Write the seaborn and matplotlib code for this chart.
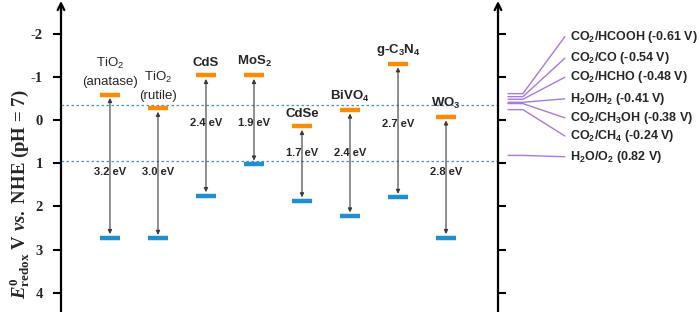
import matplotlib
matplotlib.use("Agg")
import matplotlib.pyplot as plt
import matplotlib.transforms as mtransforms
import pandas as pd
import seaborn as sns

# band edges (V vs NHE)
materials = ["TiO$_2$\n(anatase)", "TiO$_2$\n(rutile)", "CdS", "MoS$_2$",
             "CdSe", "BiVO$_4$", "g-C$_3$N$_4$", "WO$_3$"]
cb = [-0.59, -0.27, -1.03, -1.03, 0.15, -0.23, -1.30, -0.07]
vb = [2.72, 2.74, 1.75, 1.02, 1.87, 2.22, 1.79, 2.72]
gaps = ["3.2 eV", "3.0 eV", "2.4 eV", "1.9 eV", "1.7 eV", "2.4 eV", "2.7 eV", "2.8 eV"]
gap_label_y = [1.20, 1.20, 0.07, 0.07, 0.76, 0.76, 0.09, 1.20]

# redox couples
couples = ["CO$_2$/HCOOH (-0.61 V)", "CO$_2$/CO (-0.54 V)", "CO$_2$/HCHO (-0.48 V)",
           "H$_2$O/H$_2$ (-0.41 V)", "CO$_2$/CH$_3$OH (-0.38 V)", "CO$_2$/CH$_4$ (-0.24 V)",
           "H$_2$O/O$_2$ (0.82 V)"]
couple_e = [-0.61, -0.54, -0.48, -0.41, -0.38, -0.24, 0.82]
couple_label_y = [-1.93, -1.43, -0.99, -0.49, -0.05, 0.37, 0.85]

water_lines = [-0.35, 0.94]
yticks = [-2, -1, 0, 1, 2, 3, 4]
ytick_labels = ["-2", "-1", "0", "1", "2", "3", "4"]

ORANGE = "#FF8C00"
BLUE = "#1F8FD2"
PURPLE = "#A57BD8"

sns.set_style("white")
plt.rcParams["font.family"] = ["Liberation Sans", "DejaVu Sans"]
plt.rcParams["mathtext.default"] = "regular"
plt.rcParams["mathtext.fontset"] = "custom"
plt.rcParams["mathtext.rm"] = "Liberation Serif:bold"
plt.rcParams["mathtext.it"] = "Liberation Serif:italic:bold"
plt.rcParams["mathtext.bf"] = "Liberation Serif:bold"
plt.rcParams["axes.unicode_minus"] = False

df = pd.DataFrame({"pos": range(len(materials)), "cb": cb, "vb": vb})

fig = plt.figure(figsize=(7, 3.12), dpi=100)
ax = fig.add_axes([61 / 700, 0, 437 / 700, 302 / 312])

for y in water_lines:
    ax.axhline(y, color="#4F8FB8", lw=0.9, ls=(0, (2, 2)), zorder=1)

sns.scatterplot(data=df, x="pos", y="cb", marker="_", s=220, linewidth=3.2,
                color=ORANGE, ax=ax, legend=False, zorder=4)
sns.scatterplot(data=df, x="pos", y="vb", marker="_", s=220, linewidth=3.2,
                color=BLUE, ax=ax, legend=False, zorder=4)

for i in range(len(materials)):
    ax.annotate("", xy=(i, vb[i]), xytext=(i, cb[i]),
                arrowprops=dict(arrowstyle="<|-|>", color="#3a3a3a", lw=0.8,
                                mutation_scale=6, shrinkA=2.5, shrinkB=2.5), zorder=3)
    ax.text(i, gap_label_y[i], gaps[i], ha="center", va="center",
            fontsize=8, fontweight="bold", zorder=5)
    ax.annotate(materials[i], xy=(i, cb[i]), xytext=(0, 4.5), textcoords="offset points",
                ha="center", va="bottom", fontsize=9.5, linespacing=1.55,
                fontweight="normal" if i < 2 else "bold")

# redox couples on the right
tr = mtransforms.blended_transform_factory(ax.transAxes, ax.transData)
for name, e, ly in zip(couples, couple_e, couple_label_y):
    ax.plot([1.023, 1.057, 1.153], [e, e, ly], color=PURPLE, lw=1,
            transform=tr, clip_on=False)
    ax.text(1.165, ly, name, transform=tr, ha="left", va="center",
            fontsize=9, fontweight="bold")

ax.set_xlim(-1.02, 8.083)
ax.set_ylim(4.444, -2.546)
ax.set_xticks([])
ax.set_yticks(yticks, labels=ytick_labels)
ax.set_xlabel("")
ax.tick_params(axis="y", left=True, right=True, labelright=False, direction="out",
               length=6, width=1.5, pad=7, labelsize=10.5, color="black")
plt.setp(ax.get_yticklabels(), fontfamily="Liberation Serif", fontweight="bold")

for s in ["top", "bottom"]:
    ax.spines[s].set_visible(False)
for s in ["left", "right"]:
    ax.spines[s].set_color("black")
    ax.spines[s].set_linewidth(1.6)

for x in [0, 1]:
    ax.annotate("", xy=(x, 1.03), xytext=(x, 0.99), xycoords="axes fraction",
                arrowprops=dict(arrowstyle="->", lw=1.6, color="black",
                                mutation_scale=12, shrinkA=0, shrinkB=0),
                annotation_clip=False)

ax.set_ylabel(r"$\mathit{E}^{\mathit{0}}_{redox}$ V $\mathit{vs.}$ NHE (pH = 7)",
              fontfamily="Liberation Serif", fontweight="bold", fontsize=13.5,
              va="center", ha="center")
ax.yaxis.set_label_coords(-0.094, 0.39)

fig.savefig("out.png", dpi=100)
